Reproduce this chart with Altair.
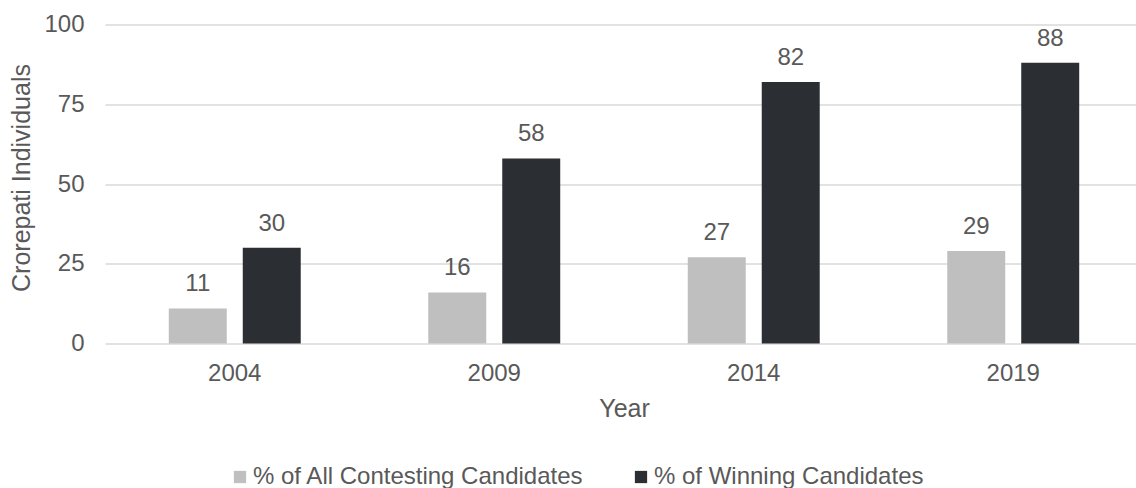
import altair as alt
import pandas as pd

years = ["2004", "2009", "2014", "2019"]
series_names = ["% of All Contesting Candidates", "% of Winning Candidates"]
all_contesting = [11, 16, 27, 29]
winning = [30, 58, 82, 88]
y_ticks = [0, 25, 50, 75, 100]
colors = ["#BFBFBF", "#2B2E33"]

rows = []
for i, yr in enumerate(years):
    rows.append({"Year": yr, "series": series_names[0], "value": all_contesting[i]})
    rows.append({"Year": yr, "series": series_names[1], "value": winning[i]})
df = pd.DataFrame(rows)

FONT = "Liberation Sans"
TXT = "#595959"

x_enc = alt.X(
    "Year:N",
    sort=years,
    scale=alt.Scale(range=[0, 1038], paddingInner=0.4915, paddingOuter=0.2458),
    axis=alt.Axis(
        title="Year",
        labelAngle=0,
        domain=False,
        ticks=False,
        tickSize=0,
        labelPadding=18,
        labelFontSize=24,
        labelColor=TXT,
        labelFont=FONT,
        titleFontSize=25,
        titleFontWeight="normal",
        titleColor=TXT,
        titleFont=FONT,
        titleBaseline="alphabetic",
        titleY=73,
        grid=False,
    ),
)
xo_enc = alt.XOffset(
    "series:N",
    sort=series_names,
    scale=alt.Scale(paddingInner=0.2162, paddingOuter=0),
)
y_enc = alt.Y(
    "value:Q",
    scale=alt.Scale(domain=[0, 100], nice=False),
    axis=alt.Axis(
        title="Crorepati Individuals",
        values=y_ticks,
        domain=False,
        ticks=False,
        tickSize=0,
        labelPadding=21,
        labelFontSize=24,
        labelColor=TXT,
        labelFont=FONT,
        labelBaseline="middle",
        grid=True,
        gridColor="#D9D9D9",
        gridWidth=1.3,
        titleFontSize=25,
        titleFontWeight="normal",
        titleColor=TXT,
        titleFont=FONT,
        titleAngle=270,
        titleAlign="center",
        titleBaseline="alphabetic",
        titleX=-76,
        titleY=153,
    ),
)

color_enc = alt.Color(
    "series:N",
    sort=series_names,
    scale=alt.Scale(domain=series_names, range=colors),
    legend=alt.Legend(
        title=None,
        orient="none",
        legendX=123,
        legendY=440.5,
        direction="horizontal",
        symbolType="square",
        symbolSize=150,
        symbolStrokeWidth=0,
        labelFontSize=24,
        labelColor=TXT,
        labelFont=FONT,
        labelOffset=1,
        labelLimit=0,
        columnPadding=45,
        padding=0,
    ),
)

base = alt.Chart(df).encode(x=x_enc, xOffset=xo_enc, y=y_enc)

bars = base.mark_bar().encode(color=color_enc)
labels = base.mark_text(
    baseline="alphabetic", dy=-17, fontSize=24, color=TXT, font=FONT
).encode(text="value:Q")

chart = (
    alt.layer(bars, labels)
    .properties(
        width=1031,
        height=319,
        autosize=alt.AutoSizeParams(type="none"),
        padding={"left": 105, "top": 24.5, "right": 0, "bottom": 144.5},
        background="white",
    )
    .configure_view(stroke=None)
)

chart.save("out.html", embed_options={"renderer": "svg", "actions": False})
